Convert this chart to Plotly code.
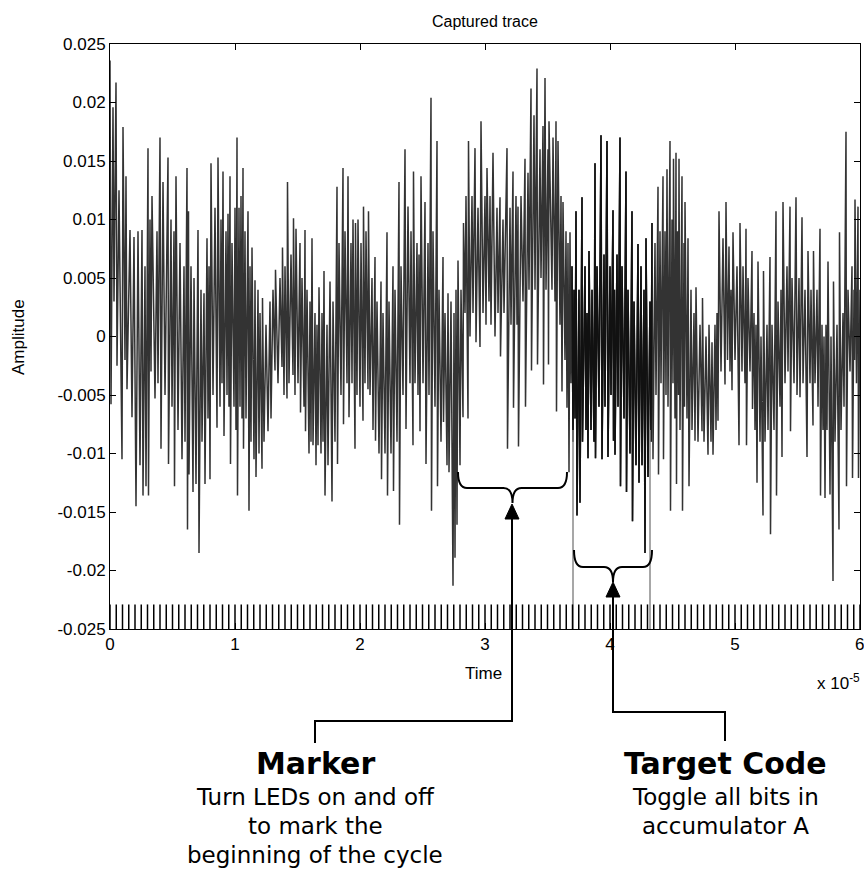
import numpy as np
import plotly.graph_objects as go

# ---------------- data ----------------
# captured trace samples: time in ns, amplitude
trace_time_ns = [
    0, 80, 240, 320, 480, 560, 720, 960, 1040, 1200,
    1280, 1360, 1600, 1760, 1920, 2080, 2240, 2400, 2560, 2640,
    2800, 2880, 3040, 3080, 3200, 3280, 3360, 3600, 3760, 3840,
    4000, 4080, 4240, 4400, 4640, 4680, 4880, 4960, 5120, 5160,
    5280, 5440, 5600, 5760, 5920, 6000, 6160, 6200, 6280, 6320,
    6480, 6640, 6720, 6880, 7040, 7120, 7280, 7360, 7520, 7600,
    7760, 7840, 7920, 8000, 8080, 8240, 8400, 8560, 8640, 8800,
    8880, 8960, 9040, 9120, 9280, 9360, 9440, 9520, 9600, 9640,
    9760, 9920, 10000, 10080, 10160, 10200, 10320, 10400, 10480, 10560,
    10640, 10680, 10800, 10880, 11040, 11120, 11200, 11280, 11360, 11520,
    11600, 11680, 11840, 11920, 12000, 12160, 12200, 12320, 12480, 12640,
    12800, 12880, 13040, 13200, 13240, 13440, 13600, 13760, 13800, 13920,
    14000, 14160, 14200, 14320, 14480, 14640, 14680, 14800, 14880, 15040,
    15200, 15240, 15360, 15520, 15600, 15640, 15760, 15920, 16000, 16080,
    16160, 16240, 16400, 16480, 16560, 16640, 16720, 16880, 16960, 17040,
    17120, 17200, 17360, 17440, 17600, 17760, 17840, 18000, 18160, 18200,
    18320, 18480, 18640, 18680, 18800, 18960, 19040, 19120, 19280, 19360,
    19440, 19600, 19640, 19760, 19840, 20000, 20080, 20240, 20280, 20400,
    20480, 20640, 20680, 20800, 20960, 21040, 21200, 21240, 21360, 21520,
    21680, 21720, 21840, 22000, 22160, 22200, 22320, 22480, 22640, 22680,
    22800, 22960, 23120, 23160, 23280, 23440, 23600, 23680, 23840, 24000,
    24080, 24240, 24280, 24400, 24560, 24640, 24720, 24800, 24880, 25040,
    25200, 25280, 25440, 25520, 25680, 25720, 25840, 26000, 26160, 26200,
    26320, 26480, 26640, 26680, 26800, 26960, 27040, 27120, 27280, 27440,
    27520, 27600, 27680, 27760, 27840, 28000, 28080, 28240, 28280, 28400,
    28480, 28640, 28680, 28800, 28960, 29040, 29200, 29280, 29440, 29600,
    29680, 29840, 30000, 30080, 30160, 30320, 30400, 30480, 30640, 30800,
    30960, 31040, 31200, 31240, 31440, 31520, 31760, 31800, 32000, 32080,
    32240, 32280, 32480, 32560, 32640, 32680, 32880, 33040, 33200, 33240,
    33440, 33520, 33680, 33720, 33920, 34000, 34160, 34200, 34400, 34480,
    34640, 34680, 34800, 34880, 35040, 35080, 35120, 35360, 35440, 35600,
    35680, 35720, 35840, 36000, 36080, 36160, 36240, 36400, 36480, 36560,
    36640, 36720, 36800, 36880, 36960, 37040, 37120, 37200, 37280, 37360,
    37520, 37600, 37760, 37800, 38000, 38080, 38160, 38240, 38320, 38480,
    38560, 38720, 38800, 38840, 38960, 39120, 39280, 39360, 39520, 39600,
    39760, 39840, 40000, 40080, 40240, 40280, 40360, 40400, 40560, 40640,
    40800, 40840, 40960, 41120, 41280, 41320, 41440, 41600, 41760, 41800,
    41920, 42080, 42240, 42320, 42480, 42560, 42720, 42800, 42880, 43040,
    43200, 43280, 43360, 43440, 43600, 43680, 43840, 43880, 44000, 44080,
    44240, 44280, 44400, 44480, 44560, 44640, 44800, 44840, 44960, 45040,
    45080, 45200, 45280, 45320, 45400, 45480, 45520, 45600, 45760, 45800,
    45920, 45960, 46000, 46160, 46240, 46320, 46480, 46560, 46720, 46800,
    46880, 47040, 47200, 47360, 47400, 47520, 47680, 47840, 47920, 48080,
    48160, 48240, 48400, 48480, 48560, 48640, 48720, 48880, 49040, 49200,
    49280, 49400, 49520, 49600, 49680, 49760, 49840, 50000, 50160, 50320,
    50400, 50560, 50640, 50800, 50880, 50920, 51040, 51200, 51360, 51400,
    51520, 51600, 51680, 51760, 51840, 52000, 52080, 52240, 52280, 52400,
    52560, 52640, 52800, 52840, 52960, 53120, 53280, 53320, 53440, 53600,
    53680, 53760, 53840, 54000, 54160, 54240, 54400, 54440, 54560, 54720,
    54880, 54960, 55120, 55200, 55360, 55440, 55600, 55760, 55840, 56000,
    56080, 56240, 56280, 56400, 56560, 56640, 56800, 56840, 56960, 57040,
    57120, 57200, 57280, 57360, 57440, 57600, 57680, 57840, 57880, 58000,
    58160, 58320, 58360, 58480, 58640, 58720, 58880, 58920, 59040, 59200,
    59360, 59400, 59520, 59560, 59600, 59720, 59840, 59880, 60000,
]
trace_amp = [
    0.0236, -0.0058, 0.0196, 0.003, 0.0217, -0.0025, 0.0125, -0.0105, 0.0179, -0.002,
    0.0137, -0.0045, 0.0091, -0.0069, 0.0085, -0.0145, 0.009, -0.011, 0.0091, -0.0136,
    0.006, -0.0128, 0.0161, -0.0136, 0.010, -0.003, 0.012, -0.0053, 0.009, -0.004,
    0.017, -0.0096, 0.0132, -0.005, 0.0153, -0.0109, 0.010, -0.006, 0.009, -0.0128,
    0.0137, -0.008, 0.008, -0.0105, 0.006, -0.009, 0.0144, -0.0165, 0.0107, -0.0118,
    0.006, -0.0133, 0.005, -0.0126, 0.0091, -0.0185, 0.004, -0.009, 0.0037, -0.0126,
    0.0084, -0.007, 0.006, -0.0122, 0.0148, -0.005, 0.011, -0.0078, 0.0153, -0.006,
    0.010, -0.004, 0.0141, -0.0085, 0.009, -0.005, 0.0105, -0.006, 0.0137, -0.0109,
    0.008, -0.006, 0.011, -0.008, 0.017, -0.0136, 0.011, -0.006, 0.012, -0.007,
    0.0144, -0.0096, 0.009, -0.007, 0.0107, -0.0149, 0.006, -0.009, 0.0076, -0.0105,
    0.0048, -0.012, 0.004, -0.010, 0.002, -0.0113, 0.0033, -0.009, 0.001, -0.0081,
    0.003, -0.007, 0.004, -0.0029, 0.0057, -0.004, 0.005, -0.0026, 0.0076, -0.005,
    0.006, -0.0053, 0.0132, -0.004, 0.007, -0.0033, 0.0101, -0.005, 0.0092, -0.004,
    0.008, -0.0065, 0.005, -0.006, 0.0091, -0.0081, 0.004, -0.010, 0.003, -0.009,
    0.0084, -0.0093, 0.002, -0.011, 0.001, -0.0093, 0.0042, -0.010, 0.002, -0.009,
    0.0056, -0.0136, 0.001, -0.011, 0.0047, -0.0141, 0.003, -0.009, 0.0128, -0.0109,
    0.008, -0.005, 0.0144, -0.0075, 0.009, -0.004, 0.0137, -0.0069, 0.008, -0.004,
    0.010, -0.0096, 0.0097, -0.005, 0.010, -0.006, 0.008, -0.0072, 0.0111, -0.004,
    0.009, -0.0045, 0.0107, -0.005, 0.005, -0.008, 0.0068, -0.0089, 0.003, -0.010,
    0.0047, -0.0122, 0.002, -0.010, 0.0089, -0.0136, 0.003, -0.010, 0.006, -0.0132,
    0.004, -0.009, 0.0132, -0.0161, 0.006, -0.005, 0.016, -0.0079, 0.0111, -0.004,
    0.009, -0.0093, 0.0141, -0.004, 0.008, -0.005, 0.007, -0.0081, 0.0137, -0.004,
    0.0115, -0.0109, 0.008, -0.005, 0.0204, -0.0149, 0.009, -0.006, 0.0167, -0.0128,
    0.004, -0.009, 0.0068, -0.0073, 0.002, -0.011, 0.0037, -0.0116, 0.003, -0.0213,
    0.002, -0.0189, 0.004, -0.0161, 0.0065, -0.011, 0.004, -0.0069, 0.0097, 0.002,
    0.012, -0.007, 0.0167, 0.0, 0.012, 0.002, 0.0161, -0.0005, 0.011, -0.0009,
    0.0184, 0.002, 0.012, 0.001, 0.0144, 0.003, 0.012, 0.001, 0.0157, 0.0,
    0.011, 0.002, 0.0119, -0.0017, 0.010, 0.002, 0.0161, -0.0096, 0.011, 0.001,
    0.0141, -0.0061, 0.012, 0.001, 0.0111, -0.0094, 0.012, 0.003, 0.0152, -0.006,
    0.014, 0.004, 0.0212, -0.0029, 0.0189, 0.004, 0.0229, -0.0024, 0.016, 0.005,
    0.018, -0.0041, 0.0221, 0.004, 0.016, -0.0024, 0.0184, 0.004, 0.017, 0.003,
    0.0184, -0.0064, 0.0167, 0.001, 0.012, -0.0047, 0.0115, -0.002, 0.009, -0.0061,
    0.008, -0.0116, 0.0089, -0.004, 0.006, -0.009, 0.004, -0.007, 0.0107, -0.0153,
    0.004, -0.0142, 0.0119, -0.009, 0.006, -0.008, 0.002, -0.0104, 0.0073, -0.008,
    0.004, -0.009, 0.0148, -0.0104, 0.006, -0.006, 0.0172, -0.0105, 0.007, -0.006,
    0.0167, -0.0103, 0.006, -0.005, 0.0108, -0.0089, 0.004, -0.0101, 0.007, -0.006,
    0.017, -0.0128, 0.006, -0.007, 0.0141, -0.0133, 0.004, -0.01, 0.0107, -0.0158,
    0.003, -0.011, 0.0079, -0.0125, 0.006, -0.011, 0.004, -0.0185, 0.0084, -0.012,
    0.003, -0.009, 0.0097, -0.0105, 0.008, -0.005, 0.0128, -0.0118, 0.009, -0.004,
    0.0137, -0.0105, 0.009, -0.005, 0.0143, -0.006, 0.0167, -0.0149, 0.010, -0.004,
    0.0152, -0.007, 0.0157, -0.0126, 0.009, -0.005, 0.0152, -0.008, 0.0137, -0.0149,
    0.008, -0.006, 0.0115, -0.007, 0.0084, -0.0128, 0.004, -0.008, 0.002, -0.0089,
    0.0042, -0.009, 0.001, -0.0081, 0.0033, -0.009, 0.0, -0.0101, 0.001, -0.009,
    -0.0005, -0.0101, 0.001, -0.008, 0.002, -0.0072, 0.0107, -0.003, 0.0084, -0.0041,
    0.0115, -0.002, 0.0077, -0.003, 0.004, -0.0046, 0.0089, -0.002, 0.006, -0.0093,
    0.0097, -0.003, 0.006, -0.004, 0.0092, -0.0093, 0.005, -0.003, 0.0073, -0.0062,
    0.002, -0.008, 0.001, -0.0125, 0.0064, -0.009, 0.0, -0.0153, 0.0056, -0.009,
    0.001, -0.008, 0.0068, -0.0169, 0.001, -0.008, 0.0107, -0.0136, 0.003, -0.006,
    0.004, -0.0103, 0.0115, -0.004, 0.006, -0.003, 0.0111, -0.0081, 0.005, -0.004,
    0.0119, -0.005, 0.005, -0.0052, 0.0102, -0.004, 0.004, -0.0103, 0.0073, -0.004,
    0.004, -0.0076, 0.0073, -0.004, 0.004, -0.006, 0.0092, -0.0136, 0.001, -0.008,
    0.0, -0.0138, 0.001, -0.008, 0.0064, -0.0135, 0.0, -0.0209, 0.0047, -0.009,
    0.001, -0.0165, 0.0089, -0.008, 0.002, -0.006, 0.0175, -0.0128, 0.004, -0.003,
    0.006, -0.0121, 0.004, -0.002, 0.0117, -0.004, 0.0111, -0.0121, 0.004,
]

# target-code window (drawn darker) and its two boundary markers
target_window_ns = [36960, 43360]
target_marker_ns = [37040, 43200]
target_marker_amp = [-0.008, -0.025]

# clock pulses along the bottom (ns)
clock_time_ns = [
    0, 500, 1000, 1500, 2000, 2500, 3000, 3500, 4000, 4500,
    5000, 5500, 6000, 6500, 7000, 7500, 8000, 8500, 9000, 9500,
    10000, 10500, 11000, 11500, 12000, 12500, 13000, 13500, 14000, 14500,
    15000, 15500, 16000, 16500, 17000, 17500, 18000, 18500, 19000, 19500,
    20000, 20500, 21000, 21500, 22000, 22500, 23000, 23500, 24000, 24500,
    25000, 25500, 26000, 26500, 27000, 27500, 28000, 28500, 29000, 29500,
    30000, 30500, 31000, 31500, 32000, 32500, 33000, 33500, 34000, 34500,
    35000, 35500, 36000, 36500, 37000, 37500, 38000, 38500, 39000, 39500,
    40000, 40500, 41000, 41500, 42000, 42500, 43000, 43500, 44000, 44500,
    45000, 45500, 46000, 46500, 47000, 47500, 48000, 48500, 49000, 49500,
    50000, 50500, 51000, 51500, 52000, 52500, 53000, 53500, 54000, 54500,
    55000, 55500, 56000, 56500, 57000, 57500, 58000, 58500, 59000, 59500,
    60000,
]
clock_amp = [-0.0229, -0.025]

x_tick_vals = [0, 1, 2, 3, 4, 5, 6]
x_tick_text = ["0", "1", "2", "3", "4", "5", "6"]
y_tick_vals = [-0.025, -0.02, -0.015, -0.01, -0.005, 0, 0.005, 0.01, 0.015, 0.02, 0.025]
y_tick_text = ["-0.025", "-0.02", "-0.015", "-0.01", "-0.005", "0",
               "0.005", "0.01", "0.015", "0.02", "0.025"]

# ---------------- build ----------------
assert len(trace_time_ns) == len(trace_amp)
NS_PER_UNIT = 10000.0  # axis unit is 1e-5 s

t = np.array(trace_time_ns) / NS_PER_UNIT
a = np.array(trace_amp)
w0, w1 = target_window_ns[0] / NS_PER_UNIT, target_window_ns[1] / NS_PER_UNIT

MAIN = "#333333"
DARK = "#111111"

fig = go.Figure()
fig.add_trace(go.Scatter(x=t, y=a, mode="lines", line=dict(color=MAIN, width=1.5)))
tm = (t >= w0) & (t <= w1)
fig.add_trace(go.Scatter(x=t[tm], y=a[tm], mode="lines", line=dict(color=DARK, width=1.5)))

# boundary markers of the target window
mx, my = [], []
for v in target_marker_ns:
    mx += [v / NS_PER_UNIT, v / NS_PER_UNIT, None]
    my += [target_marker_amp[0], target_marker_amp[1], None]
fig.add_trace(go.Scatter(x=mx, y=my, mode="lines", line=dict(color="#8a8a8a", width=1.5)))

# clock pulses
kx, ky = [], []
for v in clock_time_ns:
    kx += [v / NS_PER_UNIT, v / NS_PER_UNIT, None]
    ky += [clock_amp[0], clock_amp[1], None]
fig.add_trace(go.Scatter(x=kx, y=ky, mode="lines", line=dict(color="black", width=1.5)))

# ---------------- layout ----------------
L, R, T, B = 110, 860, 44, 629
W, H = 864, 871


def P(xp, yp):
    return (xp - L) / (R - L), (B - yp) / (B - T)


def path(points_cmds):
    out = []
    for cmd, pts in points_cmds:
        s = cmd
        for (xp, yp) in pts:
            px, py = P(xp, yp)
            s += f" {px:.5f},{py:.5f}"
        out.append(s)
    return " ".join(out)


def brace(x0, x1, ytop, yh, ycusp, r=9):
    xc = (x0 + x1) / 2
    return path([
        ("M", [(x0, ytop)]),
        ("Q", [(x0, yh), (x0 + r, yh)]),
        ("L", [(xc - r, yh)]),
        ("Q", [(xc, yh), (xc, ycusp)]),
        ("Q", [(xc, yh), (xc + r, yh)]),
        ("L", [(x1 - r, yh)]),
        ("Q", [(x1, yh), (x1, ytop)]),
    ])


def tri(xc, ytip, ybase, hw=7):
    return path([("M", [(xc, ytip)]), ("L", [(xc - hw, ybase)]), ("L", [(xc + hw, ybase)]), ("Z", [])])


shapes = []
line_style = dict(color="black", width=2)
shapes.append(dict(type="path", xref="paper", yref="paper", path=brace(458, 567, 472, 488, 503), line=line_style))
shapes.append(dict(type="path", xref="paper", yref="paper", path=brace(574, 652, 550, 567, 582), line=line_style))
shapes.append(dict(type="path", xref="paper", yref="paper", path=tri(512, 504, 519), fillcolor="black", line=dict(color="black", width=1)))
shapes.append(dict(type="path", xref="paper", yref="paper", path=tri(613, 582, 597), fillcolor="black", line=dict(color="black", width=1)))
shapes.append(dict(type="path", xref="paper", yref="paper",
                   path=path([("M", [(512, 519)]), ("L", [(512, 721)]), ("L", [(315, 721)]), ("L", [(315, 743)])]),
                   line=line_style))
shapes.append(dict(type="path", xref="paper", yref="paper",
                   path=path([("M", [(613, 597)]), ("L", [(613, 712)]), ("L", [(725, 712)]), ("L", [(725, 741)])]),
                   line=line_style))

ann = []
AX = "Liberation Sans, Arial, sans-serif"
VF = "DejaVu Sans, Verdana, sans-serif"


def text(xp, yp, s, size, family, **kw):
    px, py = P(xp, yp)
    d = dict(x=px, y=py, xref="paper", yref="paper", text=s, showarrow=False,
             font=dict(family=family, size=size, color="black"),
             xanchor=kw.pop("xanchor", "center"), yanchor=kw.pop("yanchor", "middle"))
    d.update(kw)
    ann.append(d)


text(485, 22, "Captured trace", 16, AX)
text(18, 337, "Amplitude", 17, AX, textangle=-90)
text(483, 673, "Time", 17, AX)
text(862, 682, "x 10<sup>-5</sup>", 17, AX, xanchor="right")

# the last x tick label sits on the right edge of the figure; place it as text so
# it is not hidden for touching the page edge
last_label_x = L + (R - L) * (x_tick_vals[-1] - x_tick_vals[0]) / (x_tick_vals[-1] - x_tick_vals[0])
text(last_label_x - 1, 644, x_tick_text[-1], 17, AX)
shown_x_text = x_tick_text[:-1] + [""]

text(315, 763, "<b>Marker</b>", 30, VF)
text(315, 797, "Turn LEDs on and off", 23, VF)
text(315, 826, "to mark the", 23, VF)
text(315, 855, "beginning of the cycle", 23, VF)
text(725, 763, "<b>Target Code</b>", 30, VF)
text(725, 797, "Toggle all bits in", 23, VF)
text(725, 826, "accumulator A", 23, VF)

axis_common = dict(showgrid=False, zeroline=False, showline=True, linecolor="black", linewidth=1,
                   mirror="ticks", ticks="inside", ticklen=6, tickwidth=1, tickcolor="black",
                   automargin=False,
                   tickfont=dict(family=AX, size=17, color="black"))

fig.update_layout(
    width=W, height=H,
    margin=dict(l=L, r=W - R, t=T, b=H - B, pad=0, autoexpand=False),
    plot_bgcolor="white", paper_bgcolor="white",
    showlegend=False,
    xaxis=dict(range=[0, 6], tickmode="array", tickvals=x_tick_vals, ticktext=shown_x_text, **axis_common),
    yaxis=dict(range=[-0.025, 0.025], tickmode="array", tickvals=y_tick_vals, ticktext=y_tick_text, **axis_common),
    shapes=shapes,
    annotations=ann,
)

fig.write_html("out.html")
